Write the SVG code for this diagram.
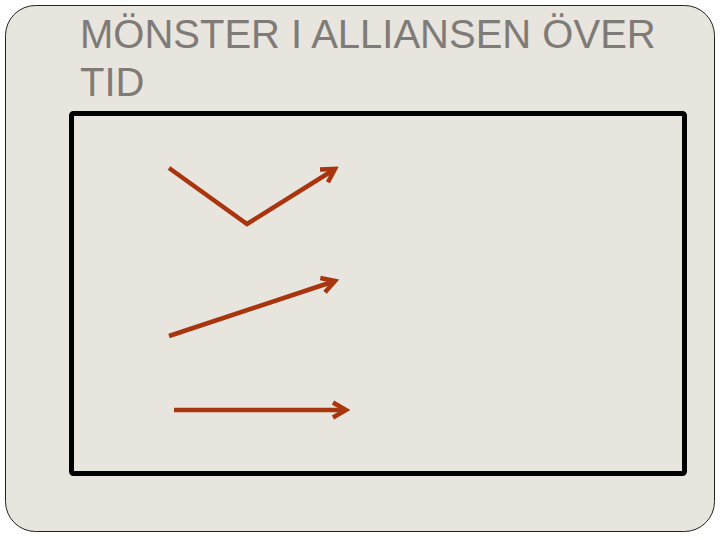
<svg xmlns="http://www.w3.org/2000/svg" width="720" height="540" viewBox="0 0 720 540">
<style>
.title{font-family:"Liberation Sans",Arial,sans-serif;font-size:40px;fill:#7f7b78}
.arr{fill:none;stroke:#a9350f;stroke-width:4.5;stroke-linejoin:miter}
</style>
<defs>
<marker id="ah" markerUnits="userSpaceOnUse" viewBox="-20 -12 24 24" refX="0" refY="0" markerWidth="24" markerHeight="24" orient="auto">
<path d="M-13,-7.5 L0,0 L-13,7.5" fill="none" stroke="#a9350f" stroke-width="4.5" stroke-linejoin="miter"/>
</marker>
</defs>
<rect width="720" height="540" fill="#ffffff"/>
<g id="slide">
<rect x="5.5" y="5.5" width="709" height="526" rx="30" ry="30" fill="#e8e4de" stroke="#222" stroke-width="1"/>
<text class="title" x="80" y="48">MÖNSTER I ALLIANSEN ÖVER</text>
<text class="title" x="80" y="96">TID</text>
</g>
<g id="frame">
<rect x="71.5" y="113.5" width="613" height="360" rx="2" fill="none" stroke="#000" stroke-width="5"/>
</g>
<g id="connectors">
<polyline class="arr" points="169,168 247,224 335,169" marker-end="url(#ah)"/>
<line class="arr" x1="169" y1="336" x2="335" y2="281" marker-end="url(#ah)"/>
<line class="arr" x1="174" y1="410" x2="346" y2="410" marker-end="url(#ah)"/>
</g>
</svg>
